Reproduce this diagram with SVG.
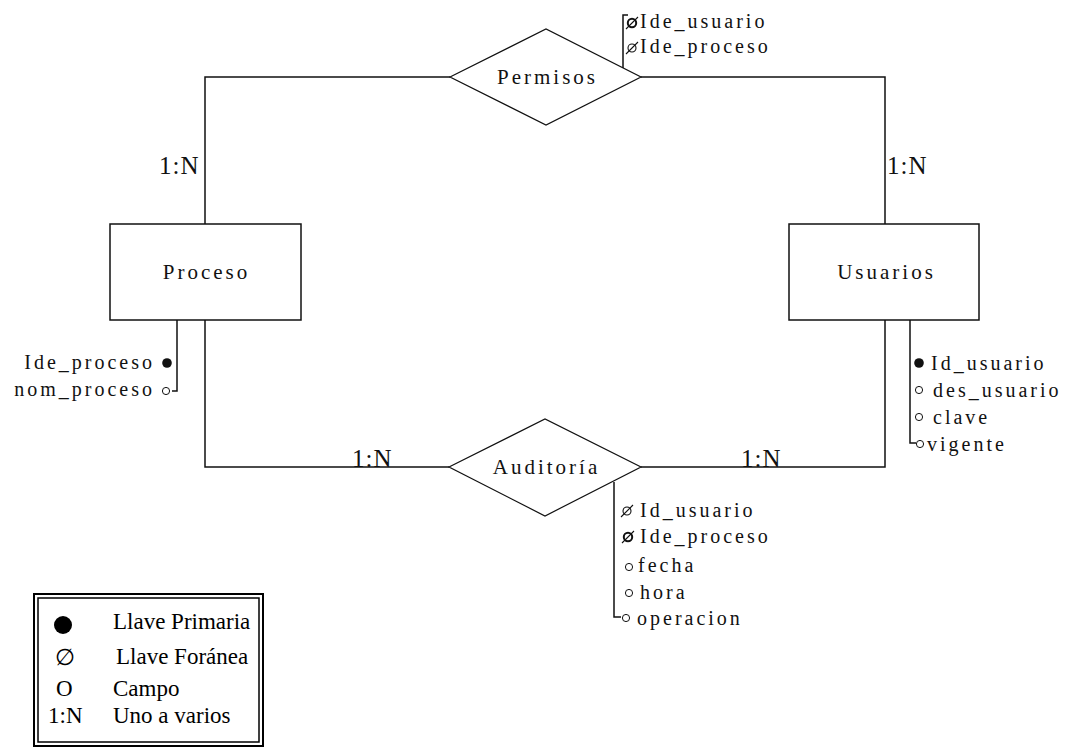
<svg xmlns="http://www.w3.org/2000/svg" width="1067" height="747" viewBox="0 0 1067 747">
  <style>
    .shape { fill: #fff; stroke: #111; stroke-width: 1.5; }
    .rel { fill: #fff; stroke: #111; stroke-width: 1.2; }
    .wire { fill: none; stroke: #111; stroke-width: 1.5; }
    .label { font-family: "Liberation Serif", serif; font-size: 21px; letter-spacing: 3px; fill: #111; text-anchor: middle; }
    .attr { font-family: "Liberation Serif", serif; font-size: 20px; letter-spacing: 3px; fill: #111; }
    .card { font-family: "Liberation Serif", serif; font-size: 25px; letter-spacing: 1px; fill: #111; }
    .legend { font-family: "Liberation Serif", serif; font-size: 23px; fill: #000; }
    .pk { fill: #111; }
    .fld { fill: #fff; stroke: #111; stroke-width: 1; }
    .fk circle { fill: none; stroke: #111; stroke-width: 1.1; }
    .fk line { stroke: #111; stroke-width: 1.1; }
    .fk.bold circle { stroke-width: 2; }
  </style>
  <defs>
    <!-- attribute markers: primary key, foreign key, plain field -->
    <circle id="m-pk" class="pk" r="4.8"/>
    <circle id="m-fld" class="fld" r="3.6"/>
    <g id="m-fk" class="fk"><circle r="4"/><line x1="-6" y1="6" x2="6" y2="-6"/></g>
    <g id="m-fkb" class="fk bold"><circle r="4.2"/><line x1="-6" y1="6" x2="6" y2="-6"/></g>
  </defs>

  <!-- relationship lines -->
  <g id="connectors">
    <path class="wire" d="M205,224 V77 H450"/>
    <path class="wire" d="M641,77 H885 V224"/>
    <path class="wire" d="M205,320 V467 H449"/>
    <path class="wire" d="M641,467 H885 V320"/>
    <text class="card" x="159" y="174">1:N</text>
    <text class="card" x="887" y="174">1:N</text>
    <text class="card" x="352" y="467">1:N</text>
    <text class="card" x="741" y="467">1:N</text>
  </g>

  <!-- Permisos relationship -->
  <g id="permisos">
    <polygon class="rel" points="450,77 546,29 641,77 546,125"/>
    <text class="label" x="547.5" y="84">Permisos</text>
    <path class="wire" d="M628,15 H623 V68"/>
    <use href="#m-fkb" x="632" y="23"/>
    <text class="attr" x="640" y="28">Ide_usuario</text>
    <use href="#m-fk" x="632" y="48"/>
    <text class="attr" x="640" y="53">Ide_proceso</text>
  </g>

  <!-- Proceso entity -->
  <g id="proceso">
    <rect class="shape" x="110" y="224" width="191" height="96"/>
    <text class="label" x="206.5" y="279">Proceso</text>
    <path class="wire" d="M177,320 V391 H172"/>
    <use href="#m-pk" x="167" y="363"/>
    <text class="attr" x="155" y="369" text-anchor="end">Ide_proceso</text>
    <use href="#m-fld" x="166" y="391"/>
    <text class="attr" x="155" y="396" text-anchor="end">nom_proceso</text>
  </g>

  <!-- Usuarios entity -->
  <g id="usuarios">
    <rect class="shape" x="789" y="224" width="190" height="96"/>
    <text class="label" x="886.5" y="279">Usuarios</text>
    <path class="wire" d="M910,320 V443 H916"/>
    <use href="#m-pk" x="919" y="363"/>
    <text class="attr" x="931" y="370">Id_usuario</text>
    <use href="#m-fld" x="919" y="390"/>
    <text class="attr" x="933" y="397">des_usuario</text>
    <use href="#m-fld" x="919" y="417"/>
    <text class="attr" x="933" y="424">clave</text>
    <use href="#m-fld" x="920" y="444"/>
    <text class="attr" x="927" y="451">vigente</text>
  </g>

  <!-- Auditoría relationship -->
  <g id="auditoria">
    <polygon class="rel" points="449,467 545,419 641,467 545,516"/>
    <text class="label" x="546.5" y="474">Auditoría</text>
    <path class="wire" d="M614,482 V617 H621"/>
    <use href="#m-fk" x="627" y="511"/>
    <text class="attr" x="640" y="517">Id_usuario</text>
    <use href="#m-fkb" x="628" y="537"/>
    <text class="attr" x="640" y="543">Ide_proceso</text>
    <use href="#m-fld" x="629" y="567"/>
    <text class="attr" x="638" y="572">fecha</text>
    <use href="#m-fld" x="629" y="593"/>
    <text class="attr" x="640" y="599">hora</text>
    <use href="#m-fld" x="626" y="618"/>
    <text class="attr" x="637" y="625">operacion</text>
  </g>

  <!-- notation key -->
  <g id="legend">
    <rect x="34" y="594" width="229" height="152" fill="#fff" stroke="#000" stroke-width="2"/>
    <rect x="38" y="598" width="221" height="144" fill="none" stroke="#000" stroke-width="1.5"/>
    <circle cx="63" cy="625" r="9" fill="#000"/>
    <text class="legend" x="113" y="629">Llave Primaria</text>
    <text class="legend" x="55" y="665" font-size="28">∅</text>
    <text class="legend" x="116" y="664">Llave Foránea</text>
    <text class="legend" x="56" y="696">O</text>
    <text class="legend" x="113" y="696">Campo</text>
    <text class="legend" x="48" y="723">1:N</text>
    <text class="legend" x="113" y="723">Uno a varios</text>
  </g>
</svg>
